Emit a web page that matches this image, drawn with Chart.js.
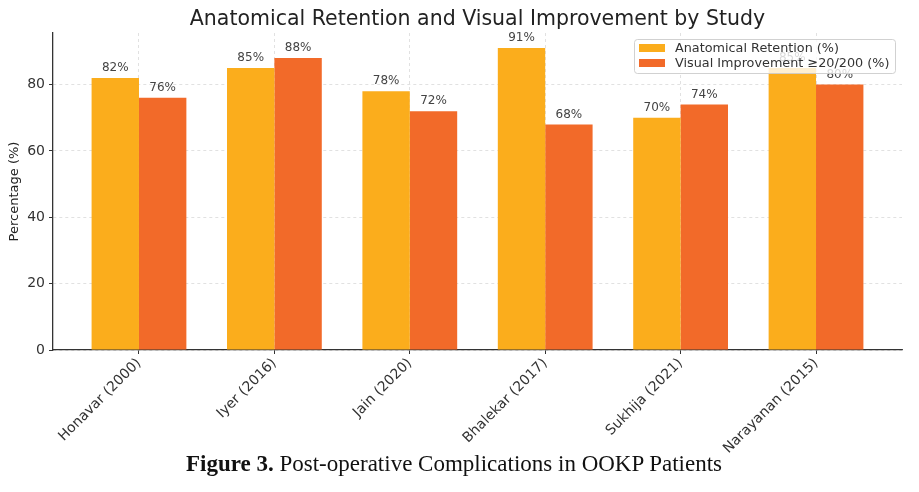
<!DOCTYPE html>
<html>
<head>
<meta charset="utf-8">
<script src="https://cdn.jsdelivr.net/npm/chart.js@4.4.1/dist/chart.umd.min.js"></script>
<style>
  html, body { margin: 0; padding: 0; background: #ffffff; }
  #wrap { position: relative; width: 919px; height: 492px; overflow: hidden; }
  #cv { position: absolute; left: 0; top: 0; }
  #caption { position: absolute; left: 0; top: 451px; width: 908px; text-align: center;
    font-family: "Liberation Serif", "DejaVu Serif", serif; font-size: 23px; color: #111; }
</style>
</head>
<body>
<div id="wrap">
  <canvas id="cv" width="919" height="492"></canvas>
  <div id="caption"><b>Figure 3.</b> Post-operative Complications in OOKP Patients</div>
</div>
<script>
const chartTitle = "Anatomical Retention and Visual Improvement by Study";
const studies = ["Honavar (2000)", "Iyer (2016)", "Jain (2020)", "Bhalekar (2017)", "Sukhija (2021)", "Narayanan (2015)"];
const anatomicalRetention = [82, 85, 78, 91, 70, 85];
const visualImprovement = [76, 88, 72, 68, 74, 80];
const seriesNames = ["Anatomical Retention (%)", "Visual Improvement \u226520/200 (%)"];
const yTicks = [0, 20, 40, 60, 80];

const colA = "#FBAD1C";
const colB = "#F26A29";

const toPoints = arr => arr.map((v, i) => ({ x: i, y: v }));

const valueLabels = {
  id: "valueLabels",
  afterDatasetsDraw(chart) {
    const ctx = chart.ctx;
    ctx.save();
    ctx.font = "12px 'DejaVu Sans'";
    ctx.fillStyle = "#444";
    ctx.textAlign = "center";
    ctx.textBaseline = "bottom";
    chart.data.datasets.forEach((ds, di) => {
      chart.getDatasetMeta(di).data.forEach((bar, i) => {
        ctx.fillText(ds.data[i].y + "%", bar.x, bar.y - 4);
      });
    });
    ctx.restore();
  }
};

const areaTitle = {
  id: "areaTitle",
  afterDraw(chart) {
    const ctx = chart.ctx;
    const a = chart.chartArea;
    ctx.save();
    ctx.font = "20.5px 'DejaVu Sans'";
    ctx.fillStyle = "#222";
    ctx.textAlign = "center";
    ctx.textBaseline = "middle";
    ctx.fillText(chartTitle, (a.left + a.right) / 2, 20);
    ctx.restore();
  }
};

const innerLegend = {
  id: "innerLegend",
  afterDraw(chart) {
    const ctx = chart.ctx;
    const x = 634, y = 39, w = 261, h = 34;
    ctx.save();
    ctx.fillStyle = "rgba(255,255,255,0.8)";
    ctx.strokeStyle = "rgba(204,204,204,0.9)";
    ctx.lineWidth = 1;
    ctx.beginPath();
    ctx.roundRect(x + 0.5, y + 0.5, w, h, 3);
    ctx.fill();
    ctx.stroke();
    ctx.font = "12.8px 'DejaVu Sans'";
    ctx.textBaseline = "middle";
    ctx.textAlign = "left";
    chart.data.datasets.forEach((ds, i) => {
      const cy = y + 9 + i * 15;
      ctx.fillStyle = ds.backgroundColor;
      ctx.fillRect(x + 5, cy - 4, 26, 8);
      ctx.fillStyle = "#333";
      ctx.fillText(ds.label, x + 41, cy + 1);
    });
    ctx.restore();
  }
};

new Chart(document.getElementById("cv"), {
  type: "bar",
  data: {
    datasets: [
      { label: seriesNames[0], data: toPoints(anatomicalRetention), backgroundColor: colA, borderWidth: 0 },
      { label: seriesNames[1], data: toPoints(visualImprovement), backgroundColor: colB, borderWidth: 0 }
    ]
  },
  options: {
    responsive: false,
    animation: false,
    devicePixelRatio: 1,
    layout: { padding: { left: 0, right: 17, top: 33, bottom: 0 } },
    datasets: { bar: { categoryPercentage: 0.7, barPercentage: 1.0 } },
    plugins: {
      legend: { display: false },
      tooltip: { enabled: false },
      title: { display: false }
    },
    scales: {
      x: {
        type: "linear",
        min: -0.635,
        max: 5.635,
        offset: false,
        afterBuildTicks: s => { s.ticks = studies.map((_, i) => ({ value: i })); },
        afterFit: s => { s.height = 142; },
        ticks: {
          autoSkip: false,
          minRotation: 45,
          maxRotation: 45,
          padding: 1,
          color: "#333",
          font: { family: "DejaVu Sans", size: 14 },
          callback: v => studies[v]
        },
        grid: {
          offset: false,
          color: "rgba(185,185,185,0.55)",
          tickColor: "#333",
          tickLength: 4,
          lineWidth: 0.8,
          tickWidth: 1,
          tickBorderDash: [],
          drawOnChartArea: true
        },
        border: { display: true, color: "#333", width: 1.3, dash: [3, 3] }
      },
      y: {
        type: "linear",
        min: 0,
        max: 95.55,
        afterBuildTicks: s => { s.ticks = yTicks.map(v => ({ value: v })); },
        afterFit: s => { s.width = 53; },
        ticks: {
          color: "#333",
          padding: 4,
          font: { family: "DejaVu Sans", size: 14 }
        },
        grid: {
          color: "rgba(185,185,185,0.55)",
          tickColor: "#333",
          tickLength: 4,
          lineWidth: 0.8,
          tickWidth: 1,
          tickBorderDash: []
        },
        border: { display: true, color: "#333", width: 1.3, dash: [3, 3] },
        title: {
          display: true,
          text: "Percentage (%)",
          color: "#222",
          font: { family: "DejaVu Sans", size: 13 },
          padding: { top: 7, bottom: 0 }
        }
      }
    }
  },
  plugins: [valueLabels, areaTitle, innerLegend]
});
</script>
</body>
</html>
